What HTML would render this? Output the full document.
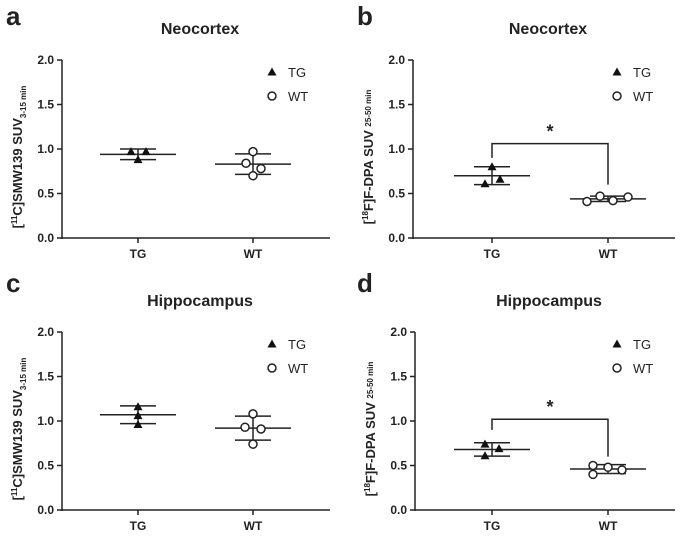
<!DOCTYPE html>
<html><head><meta charset="utf-8"><style>
body{margin:0;background:#fff;}
svg text{font-family:"Liberation Sans",Arial,sans-serif;font-weight:bold;fill:#222;}
</style></head><body>
<svg id="fig" width="685" height="533" xmlns="http://www.w3.org/2000/svg"></svg>
<script>
const groups = ["TG","WT"];
const yTicks = [0,0.5,1.0,1.5,2.0];
const titles = ["Neocortex","Neocortex","Hippocampus","Hippocampus"];
const letters = ["a","b","c","d"];
const tgA=[0.97,0.97,0.88], wtA=[0.97,0.84,0.78,0.70];
const tgB=[0.80,0.66,0.61], wtB=[0.41,0.47,0.42,0.46];
const tgC=[1.16,1.06,0.96], wtC=[1.08,0.93,0.91,0.74];
const tgD=[0.74,0.69,0.61], wtD=[0.50,0.40,0.48,0.45];
const tgMean=[0.94,0.70,1.07,0.68], tgSD=[0.06,0.10,0.10,0.075];
const wtMean=[0.83,0.44,0.92,0.46], wtSD=[0.115,0.03,0.135,0.05];
const sig=[null,[1.06,0.9,0.6],null,[1.02,0.9,0.6]];
const tgVals=[tgA,tgB,tgC,tgD], wtVals=[wtA,wtB,wtC,wtD];
const tgOffs=[[-7,8,0],[0,8,-7],[0,0,0],[-7,7,-7]];
const wtOffs=[[0,-7,8,0],[-21,-8,5,20],[0,-8,8,0],[-15,-15,0,14]];

const NS="http://www.w3.org/2000/svg";
const svg=document.getElementById('fig');
function el(t,a,p){const e=document.createElementNS(NS,t);for(const k in a)e.setAttribute(k,a[k]);(p||svg).appendChild(e);return e;}
const panels=[
 {ax:62,top:60,end:330,x0:138,x1:253,lx:6,ly:0},
 {ax:413,top:60,end:675,x0:492,x1:608,lx:357,ly:0},
 {ax:62,top:332,end:330,x0:138,x1:253,lx:6,ly:267},
 {ax:415,top:332,end:675,x0:492,x1:608,lx:357,ly:267}];
panels.forEach((P,i)=>{
 const g=el('g',{});
 
 
 const H=178, bot=P.top+H;
 const y=v=>bot-v/2*H;
 const xs=[P.x0,P.x1];
 const L=el('text',{x:P.lx,y:P.ly+25,'font-size':26},g);L.textContent=letters[i];
 
 const T=el('text',{x:(P.ax+P.end)/2+4,y:P.top-26,'font-size':16,'text-anchor':'middle'},g);T.textContent=titles[i];
 
 el('line',{x1:P.ax,y1:P.top,x2:P.ax,y2:bot+1,stroke:'#222','stroke-width':1.5},g);
 el('line',{x1:P.ax,y1:bot,x2:P.end,y2:bot,stroke:'#222','stroke-width':1.5},g);
 yTicks.forEach(v=>{
  el('line',{x1:P.ax-5,y1:y(v),x2:P.ax,y2:y(v),stroke:'#222','stroke-width':1.5},g);
  const t=el('text',{x:P.ax-8,y:y(v)+4,'font-size':12,'text-anchor':'end'},g);t.textContent=v.toFixed(1);
  
 });
 groups.forEach((gn,j)=>{
  el('line',{x1:xs[j],y1:bot,x2:xs[j],y2:bot+5,stroke:'#222','stroke-width':1.5},g);
  const t=el('text',{x:xs[j],y:bot+20,'font-size':12,'text-anchor':'middle'},g);t.textContent=gn;
  
 });
 const yt=el('text',{transform:`translate(${P.ax-40},${(P.top+bot)/2+8}) rotate(-90)`,'font-size':13,'text-anchor':'middle'},g);
 
 if(i%2==0){yt.innerHTML='[<tspan font-size="8" dy="-5">11</tspan><tspan dy="5">C]SMW139 SUV</tspan><tspan font-size="8" dy="4">3-15 min</tspan>';}
 else{yt.innerHTML='[<tspan font-size="8" dy="-5">18</tspan><tspan dy="5">F]F-DPA SUV </tspan><tspan font-size="8" dy="-2">25-50 min</tspan>';}
 const means=[tgMean[i],wtMean[i]], sds=[tgSD[i],wtSD[i]];
 means.forEach((m,j)=>{
  const x=xs[j];
  el('line',{x1:x-38,y1:y(m),x2:x+38,y2:y(m),stroke:'#222','stroke-width':1.5},g);
  el('line',{x1:x,y1:y(m+sds[j]),x2:x,y2:y(m-sds[j]),stroke:'#222','stroke-width':1.5},g);
  [m+sds[j],m-sds[j]].forEach(v=>el('line',{x1:x-18,y1:y(v),x2:x+18,y2:y(v),stroke:'#222','stroke-width':1.5},g));
 });
 tgVals[i].forEach((v,k)=>{
  const cx=P.x0+tgOffs[i][k], cy=y(v);
  const p=el('polygon',{points:`${cx},${cy-4.5} ${cx-4.5},${cy+3.5} ${cx+4.5},${cy+3.5}`,fill:'#111'},g);
  
 });
 wtVals[i].forEach((v,k)=>{
  const c=el('circle',{cx:P.x1+wtOffs[i][k],cy:y(v),r:4,fill:'#fff',stroke:'#222','stroke-width':1.5},g);
  
 });
 if(sig[i]){
  const s=sig[i];
  const b=el('path',{d:`M${P.x0},${y(s[1])}V${y(s[0])}H${P.x1}V${y(s[2])}`,fill:'none',stroke:'#222','stroke-width':1.5},g);
  
  const st=el('text',{x:(P.x0+P.x1)/2,y:y(s[0])-6,'font-size':18,'text-anchor':'middle'},g);st.textContent='*';
  
 }
 const lx=P.end-58, ly=P.top+12;
 const lg=el('g',{},g);
 el('polygon',{points:`${lx},${ly-4.5} ${lx-4.5},${ly+3.5} ${lx+4.5},${ly+3.5}`,fill:'#111'},lg);
 const t1=el('text',{x:lx+16,y:ly+5,'font-size':13},lg);t1.textContent='TG';t1.style.fontWeight='normal';
 el('circle',{cx:lx,cy:ly+24,r:4,fill:'#fff',stroke:'#222','stroke-width':1.5},lg);
 const t2=el('text',{x:lx+16,y:ly+29,'font-size':13},lg);t2.textContent='WT';t2.style.fontWeight='normal';
});
</script>
</body></html>
